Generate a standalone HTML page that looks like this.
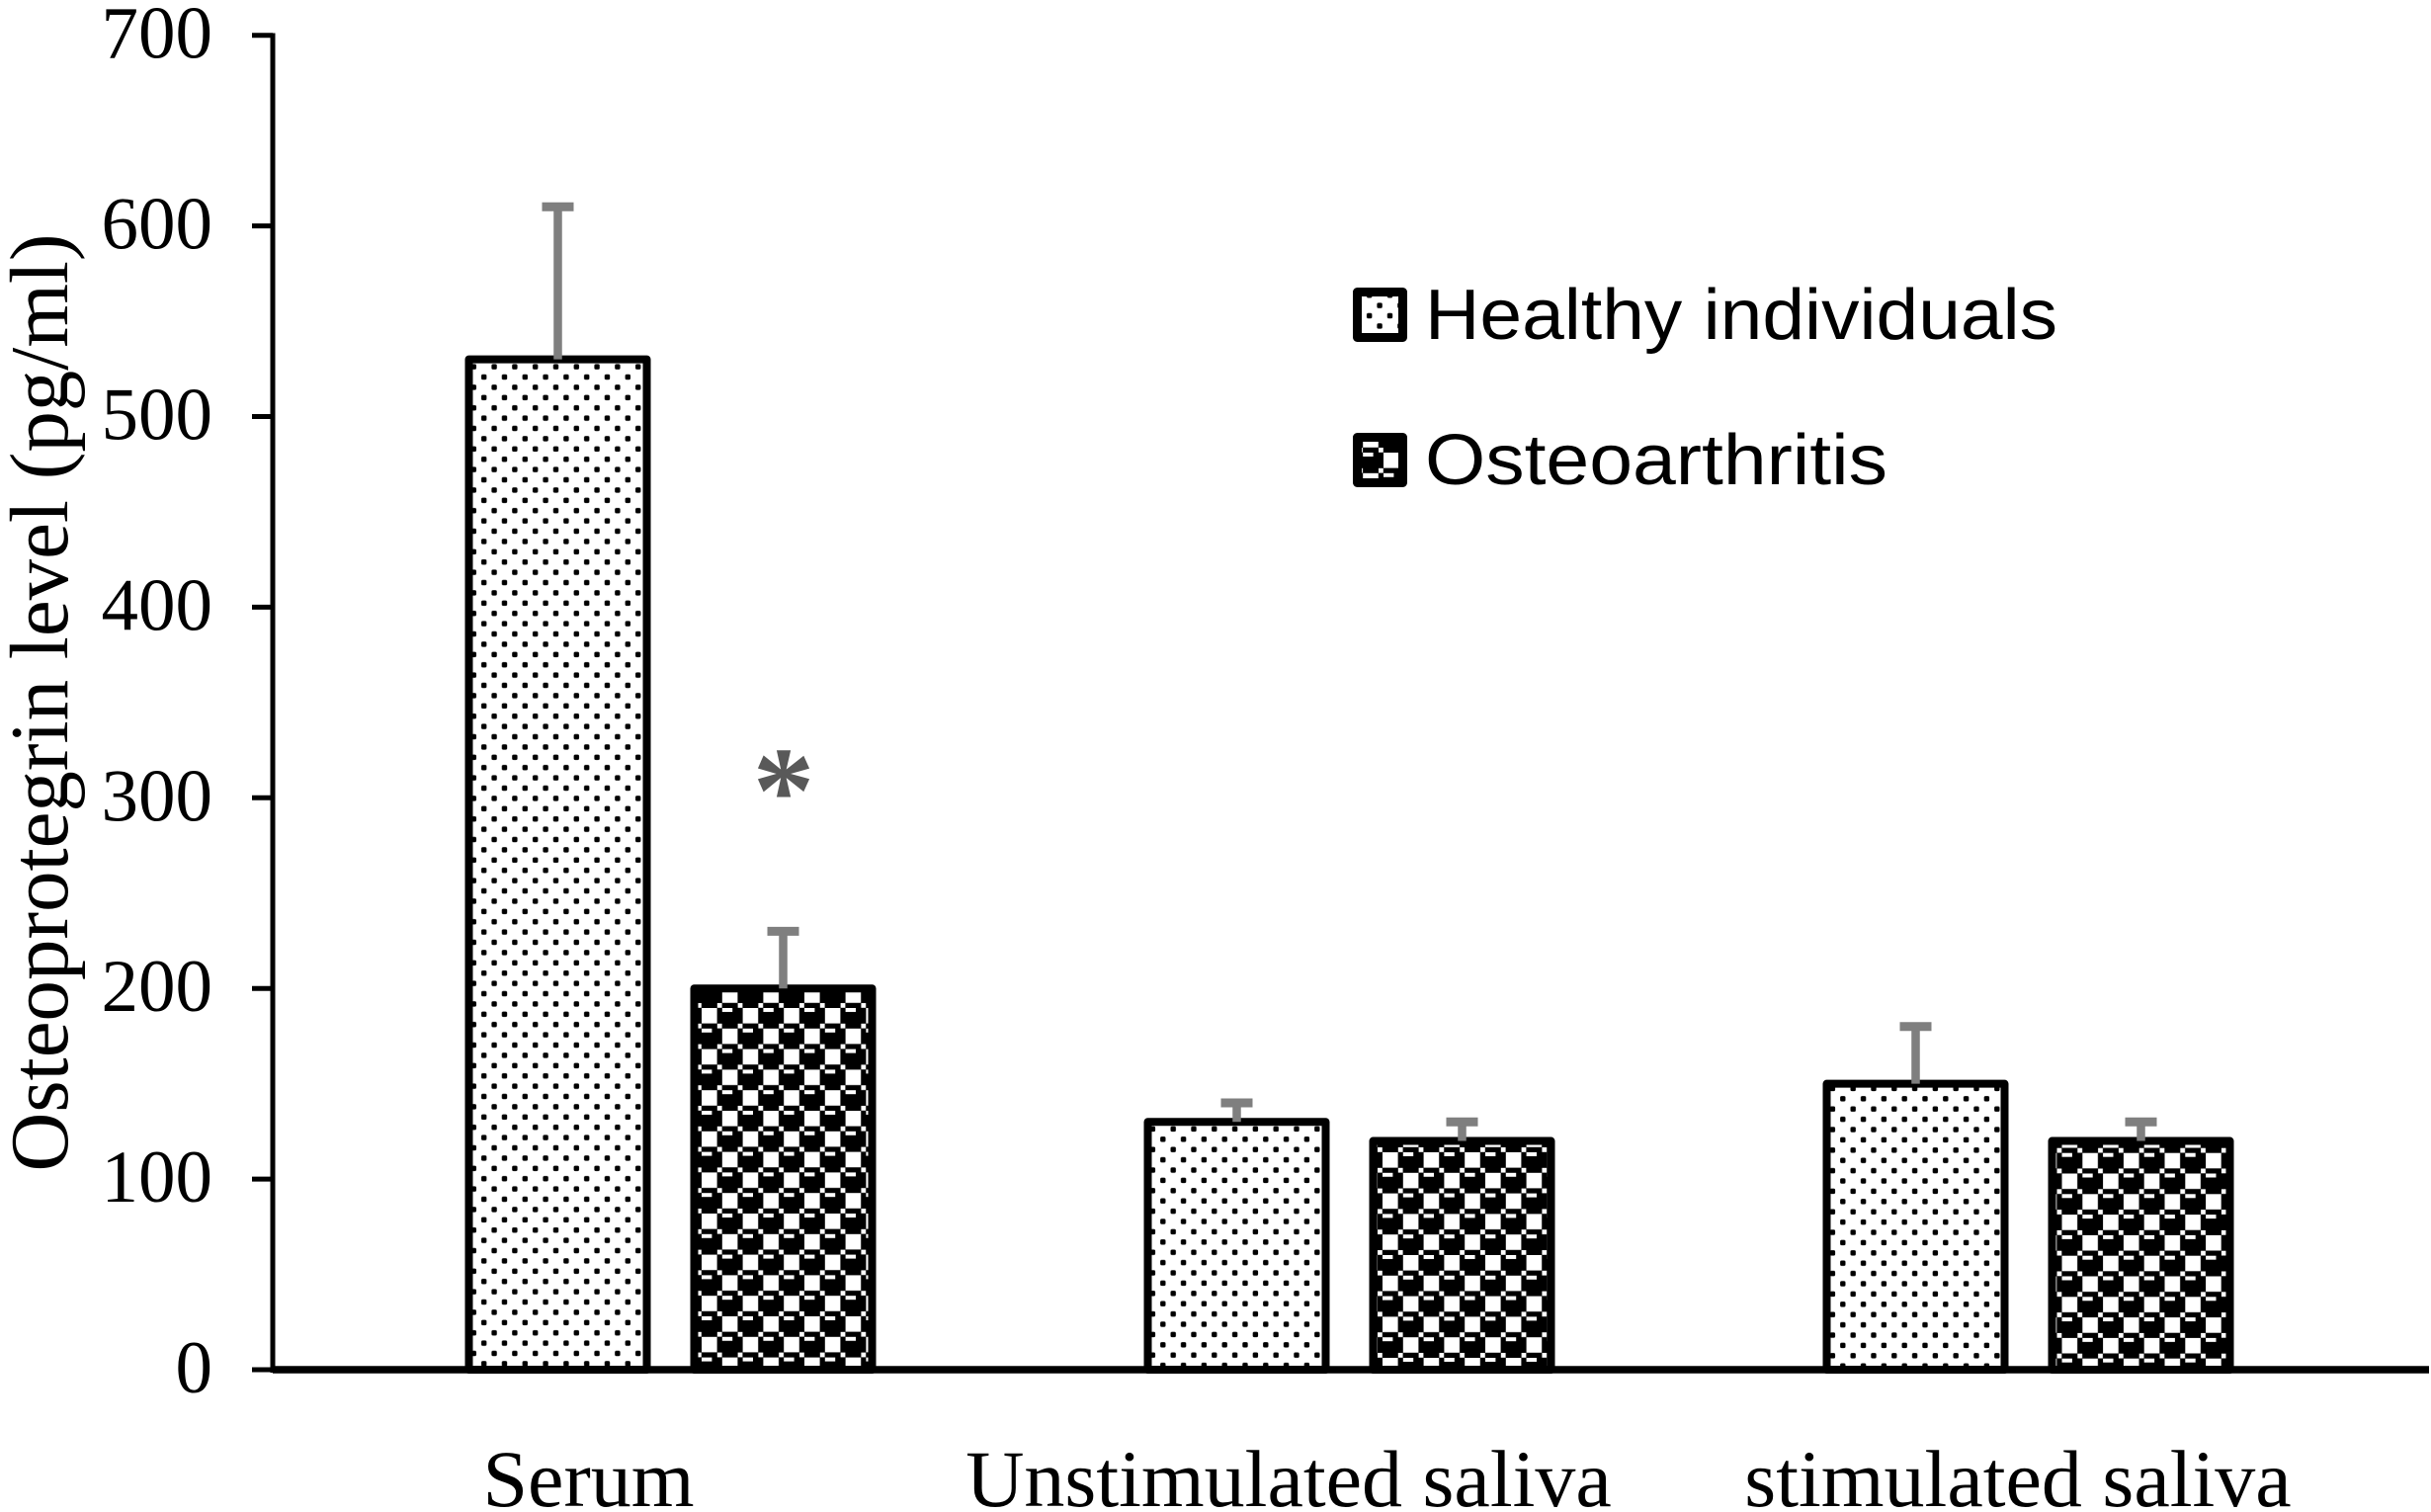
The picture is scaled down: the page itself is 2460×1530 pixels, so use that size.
<!DOCTYPE html>
<html lang="en">
<head>
<meta charset="utf-8">
<title>Osteoprotegrin level chart</title>
<style>
  html, body { margin: 0; padding: 0; background: #fff; }
  #chart { display: block; width: 2460px; height: 1530px; }
  text { font-family: "Liberation Serif", serif; fill: #000; }
  .legend-text { font-family: "Liberation Sans", sans-serif; font-size: 72px; }
</style>
</head>
<body>
<svg id="chart" xmlns="http://www.w3.org/2000/svg" width="2460" height="1530" viewBox="0 0 2460 1530">
  <defs>
    <g id="dot-tile">
      <rect x="2.6" y="2.6" width="5.4" height="5.4" rx="1.6" fill="#000"/>
      <rect x="13" y="13" width="5.4" height="5.4" rx="1.6" fill="#000"/>
    </g>
    <g id="check-tile">
      <rect width="41.6" height="41.6" fill="#000"/>
      <rect x="0" y="0" width="15.6" height="15.6" fill="#fff"/>
      <rect x="20.8" y="20.8" width="15.6" height="15.6" fill="#fff"/>
      <rect x="20.8" y="0" width="10.4" height="4" fill="#fff"/>
      <rect x="0" y="20.8" width="10.4" height="4" fill="#fff"/>
      <rect x="15.8" y="15.8" width="4.8" height="4.8" fill="#fff"/>
      <rect x="36.6" y="15.8" width="4.8" height="4.8" fill="#fff"/>
      <rect x="15.8" y="36.6" width="4.8" height="4.8" fill="#fff"/>
      <rect x="36.6" y="36.6" width="4.8" height="4.8" fill="#fff"/>
    </g>
    <pattern id="dots-0" patternUnits="userSpaceOnUse" width="20.8" height="20.8" patternTransform="translate(494.8 365.8)"><use href="#dot-tile"/></pattern>
    <pattern id="dots-1" patternUnits="userSpaceOnUse" width="20.8" height="20.8" patternTransform="translate(1171.5 1147.5)"><use href="#dot-tile"/></pattern>
    <pattern id="dots-2" patternUnits="userSpaceOnUse" width="20.8" height="20.8" patternTransform="translate(1859.5 1106.5)"><use href="#dot-tile"/></pattern>
    <pattern id="dots-legend" patternUnits="userSpaceOnUse" width="20.8" height="20.8" patternTransform="translate(1390.8 303.8)"><use href="#dot-tile"/></pattern>
    <pattern id="check-0" patternUnits="userSpaceOnUse" width="41.6" height="41.6" patternTransform="translate(710 1020)"><use href="#check-tile"/></pattern>
    <pattern id="check-1" patternUnits="userSpaceOnUse" width="41.6" height="41.6" patternTransform="translate(1399 1166)"><use href="#check-tile"/></pattern>
    <pattern id="check-2" patternUnits="userSpaceOnUse" width="41.6" height="41.6" patternTransform="translate(2107.3 1166.7)"><use href="#check-tile"/></pattern>
    <pattern id="check-legend" patternUnits="userSpaceOnUse" width="41.6" height="41.6" patternTransform="translate(1400 458)"><use href="#check-tile"/></pattern>
  </defs>

  <rect width="2460" height="1530" fill="#fff"/>

  <g id="ticks"></g>
  <g id="bars"></g>
  <g id="errors"></g>

  <line x1="276" y1="33.5" x2="276" y2="1389" stroke="#000" stroke-width="5"/>
  <line x1="276" y1="1386" x2="2458" y2="1386" stroke="#000" stroke-width="7.5"/>

  <text transform="translate(68 711) rotate(-90)" text-anchor="middle" font-size="84" textLength="949" lengthAdjust="spacingAndGlyphs">Osteoprotegrin level (pg/ml)</text>

  <g id="xlabels"></g>

  <text x="793" y="842" text-anchor="middle" font-size="125" font-weight="bold" style="fill:#595959">*</text>

  <g>
    <g>
      <rect x="1373.5" y="295.5" width="46" height="46" fill="#fff" stroke="none"/>
      <rect x="1373.5" y="295.5" width="46" height="46" fill="url(#dots-legend)" stroke="#000" stroke-width="9" stroke-linejoin="round"/>
      <text class="legend-text" x="1442" y="343" textLength="640" lengthAdjust="spacingAndGlyphs">Healthy individuals</text>
    </g>
    <g>
      <rect x="1373.5" y="442.5" width="46" height="46" fill="url(#check-legend)" stroke="#000" stroke-width="9" stroke-linejoin="round"/>
      <text class="legend-text" x="1442" y="490" textLength="468" lengthAdjust="spacingAndGlyphs">Osteoarthritis</text>
    </g>
  </g>
</svg>

<script>
const categories = ['Serum', 'Unstimulated saliva', 'stimulated saliva'];
const healthyValues = [530, 130, 150];
const osteoarthritisValues = [200, 120, 120];
const healthyErrors = [80, 10, 30];
const osteoarthritisErrors = [30, 10, 10];
const tickLabels = ['0', '100', '200', '300', '400', '500', '600', '700'];

const NS = 'http://www.w3.org/2000/svg';
const yScale = v => 1386 - v * 1.929;
const groupCenter = i => 678.5 + 687 * i;
const barOffset = 114;
const barWidth = 180;
const capWidth = 32;
const labelCenters = i => [595.5, 1304, 2042][i];

function make(tag, attrs, parent) {
  const el = document.createElementNS(NS, tag);
  for (const k in attrs) el.setAttribute(k, attrs[k]);
  parent.appendChild(el);
  return el;
}

const tickGroup = document.getElementById('ticks');
tickLabels.forEach(label => {
  const y = yScale(Number(label));
  const tick = make('line', { x1: 255, x2: 276, y1: y, y2: y, stroke: '#000', 'stroke-width': 5 }, tickGroup);
  
  
  const text = make('text', { x: 215, y: y + 23, 'text-anchor': 'end', 'font-size': 75 }, tickGroup);
  text.textContent = label;
  
  
});

const barGroup = document.getElementById('bars');
const errorGroup = document.getElementById('errors');

function drawBar(value, err, cx, fill, seriesName, catIndex) {
  const top = yScale(value);
  const base = yScale(0);
  const bar = make('rect', { x: cx - barWidth / 2, y: top, width: barWidth, height: base - top, fill: '#fff' }, barGroup);
  
  
  const fg = make('rect', { x: cx - barWidth / 2, y: top, width: barWidth, height: base - top, fill: fill, stroke: '#000', 'stroke-width': 8, 'stroke-linejoin': 'round' }, barGroup);
  
  

  const errTop = yScale(value + err);
  const stem = make('line', { x1: cx, x2: cx, y1: top, y2: errTop, stroke: '#7f7f7f', 'stroke-width': 8.5 }, errorGroup);
  
  
  const cap = make('line', { x1: cx - capWidth / 2, x2: cx + capWidth / 2, y1: errTop, y2: errTop, stroke: '#7f7f7f', 'stroke-width': 9 }, errorGroup);
  
  
}

categories.forEach((cat, i) => {
  drawBar(healthyValues[i], healthyErrors[i], groupCenter(i) - barOffset, 'url(#dots-' + i + ')', 'healthy', i);
  drawBar(osteoarthritisValues[i], osteoarthritisErrors[i], groupCenter(i) + barOffset, 'url(#check-' + i + ')', 'osteoarthritis', i);
});

const xLabelGroup = document.getElementById('xlabels');
categories.forEach((cat, i) => {
  const t = make('text', { x: labelCenters(i), y: 1524, 'text-anchor': 'middle', 'font-size': 82 }, xLabelGroup);
  t.textContent = cat;
  
  
});
</script>
</body>
</html>
